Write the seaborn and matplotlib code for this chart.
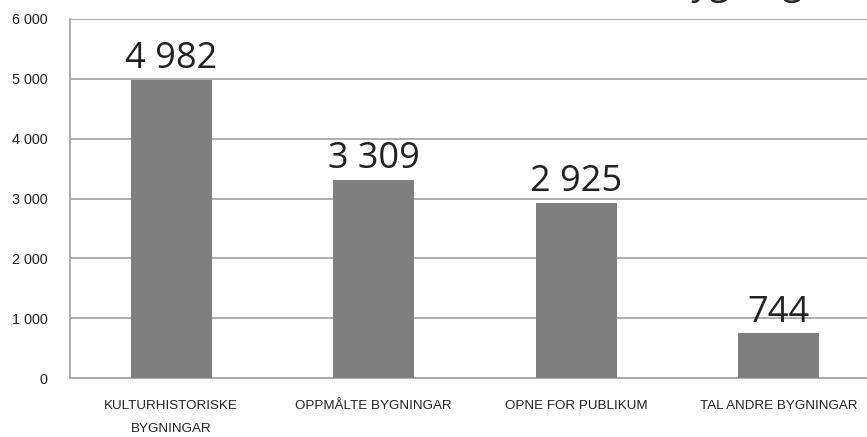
import matplotlib
matplotlib.use("Agg")
import matplotlib.pyplot as plt
import matplotlib.transforms as mtransforms
import seaborn as sns
import pandas as pd
from matplotlib.ticker import FuncFormatter, MultipleLocator

categories = ["KULTURHISTORISKE\nBYGNINGAR", "OPPMÅLTE BYGNINGAR", "OPNE FOR PUBLIKUM", "TAL ANDRE BYGNINGAR"]
values = [4982, 3309, 2925, 744]
value_labels = ["4 982", "3 309", "2 925", "744"]

df = pd.DataFrame({"cat": categories, "val": values})

sns.set_theme(style="white")
plt.rcParams["font.family"] = ["Liberation Sans", "DejaVu Sans"]

W, H = 867, 437
fig = plt.figure(figsize=(W / 100, H / 100), dpi=100)
ax = fig.add_axes([70 / W, (H - 378) / H, 810 / W, 359 / H])

sns.barplot(data=df, x="cat", y="val", ax=ax, color="#7f7f82", width=0.4,
            saturation=1, edgecolor="none", zorder=3)

ax.set_ylim(0, 6000)
ax.yaxis.set_major_locator(MultipleLocator(1000))
ax.yaxis.set_major_formatter(FuncFormatter(lambda v, p: f"{int(v):,}".replace(",", " ")))
ax.grid(axis="y", color="#a8a8a8", linewidth=1.3, zorder=0)
ax.set_axisbelow(True)
for s in ["top", "right"]:
    ax.spines[s].set_visible(False)
for s in ["left", "bottom"]:
    ax.spines[s].set_color("#a8a8a8")
    ax.spines[s].set_linewidth(1.3)
ax.set_xlabel("")
ax.set_ylabel("")
ax.tick_params(axis="y", length=0, pad=16, labelsize=10.4, labelcolor="#222222")
ax.tick_params(axis="x", length=0, pad=16, labelsize=9.6, labelcolor="#222222")
for t in ax.get_xticklabels():
    t.set_linespacing(2.15)
    t.set_verticalalignment("top")

# the "0" label sits slightly below the baseline in the reference
fig.canvas.draw()
zero_lab = ax.yaxis.get_major_ticks()[0].label1
zero_lab.set_transform(zero_lab.get_transform() +
                       mtransforms.ScaledTranslation(0, -7 / 72, fig.dpi_scale_trans))

for i, (v, lab) in enumerate(zip(values, value_labels)):
    ax.annotate(lab, (i, v), xytext=(0, 8.5), textcoords="offset points",
                ha="center", va="baseline", fontsize=26, family="Open Sans",
                color="#222222")

fig.text(668 / W, 1 + 6 / H, "Bygningar", fontsize=26, family="Open Sans",
         color="#222222", ha="left", va="baseline")

fig.savefig("out.png", dpi=100)
